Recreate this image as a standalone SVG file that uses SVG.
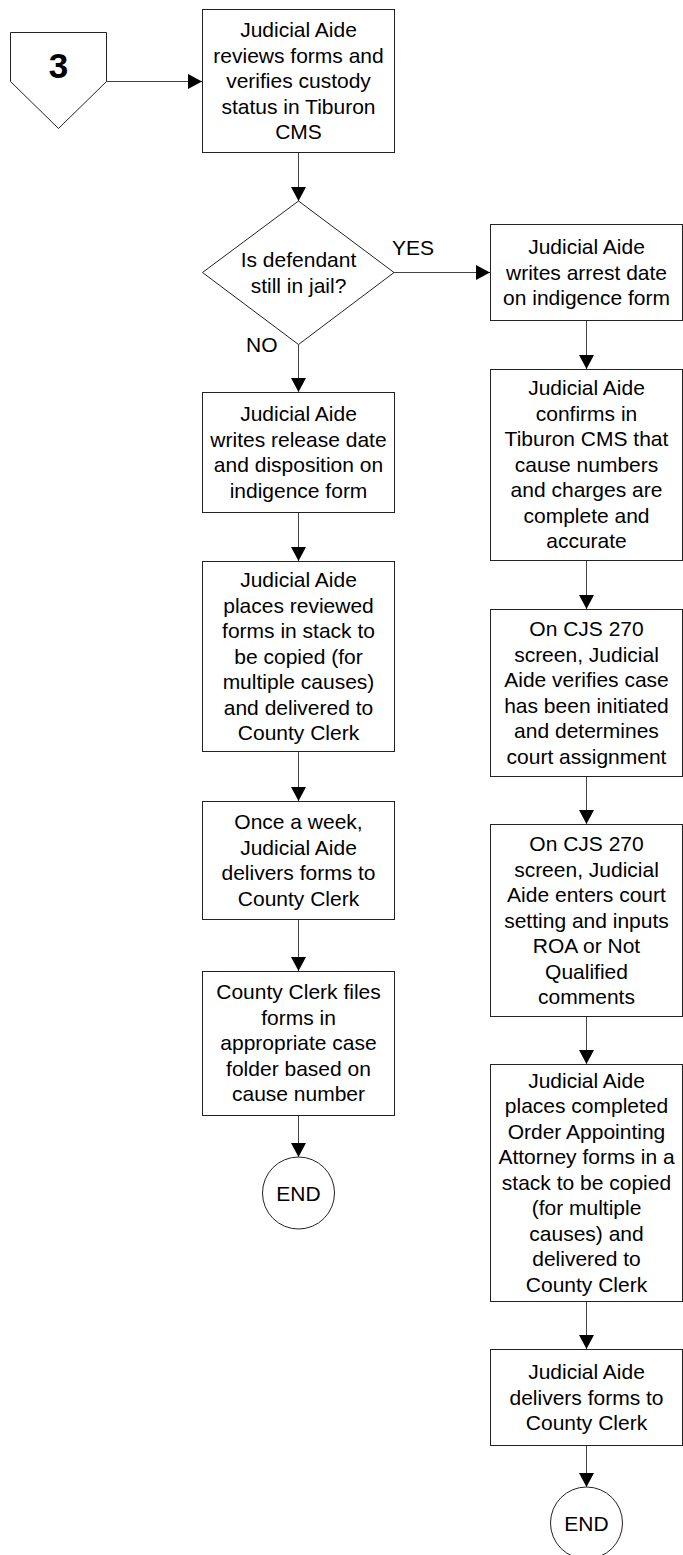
<svg xmlns="http://www.w3.org/2000/svg" width="683" height="1555" viewBox="0 0 683 1555">
<defs>
<style>
.box{fill:#fff;stroke:#222;stroke-width:1}
.conn{fill:none;stroke:#444;stroke-width:1}
.t{font-family:"Liberation Sans",Arial,sans-serif;font-size:21px;fill:#000;text-anchor:middle}
.lbl{font-family:"Liberation Sans",Arial,sans-serif;font-size:21px;fill:#000}
.big{font-family:"Liberation Sans",Arial,sans-serif;font-size:35px;font-weight:bold;fill:#000;text-anchor:middle}
</style>
<marker id="arr" viewBox="0 0 14 15" refX="14" refY="7.5" markerWidth="14" markerHeight="15" markerUnits="userSpaceOnUse" orient="auto">
<path d="M0,0 L14,7.5 L0,15 z" fill="#000"/>
</marker>
</defs>
<rect width="683" height="1555" fill="#fff"/>

<g id="connectors">
<path class="conn" d="M106 81.5 H202" marker-end="url(#arr)"/>
<path class="conn" d="M298.5 152 V201" marker-end="url(#arr)"/>
<path class="conn" d="M394 272.5 H490" marker-end="url(#arr)"/>
<path class="conn" d="M298.5 344.5 V392" marker-end="url(#arr)"/>
<path class="conn" d="M298.5 512 V561" marker-end="url(#arr)"/>
<path class="conn" d="M298.5 752 V801" marker-end="url(#arr)"/>
<path class="conn" d="M298.5 919 V971" marker-end="url(#arr)"/>
<path class="conn" d="M298.5 1115 V1157" marker-end="url(#arr)"/>
<path class="conn" d="M586.5 320 V369" marker-end="url(#arr)"/>
<path class="conn" d="M586.5 560 V609" marker-end="url(#arr)"/>
<path class="conn" d="M586.5 776 V824" marker-end="url(#arr)"/>
<path class="conn" d="M586.5 1016 V1064" marker-end="url(#arr)"/>
<path class="conn" d="M586.5 1301 V1349" marker-end="url(#arr)"/>
<path class="conn" d="M586.5 1445 V1487" marker-end="url(#arr)"/>
<text class="lbl" x="392" y="255">YES</text>
<text class="lbl" x="246" y="352">NO</text>
</g>

<g id="start">
<polygon class="box" points="10.5,32.5 106.5,32.5 106.5,81.5 58.5,128.5 10.5,81.5"/>
<text class="big" x="58.5" y="78">3</text>
</g>

<g id="review">
<rect class="box" x="202.5" y="9.5" width="192" height="143"/>
<text class="t" x="298.5" y="37">Judicial Aide</text>
<text class="t" x="298.5" y="62.5">reviews forms and</text>
<text class="t" x="298.5" y="88">verifies custody</text>
<text class="t" x="298.5" y="113.5">status in Tiburon</text>
<text class="t" x="298.5" y="139">CMS</text>
</g>

<g id="decision">
<polygon class="box" points="298.5,201 394,272.5 298.5,344.5 202.5,272.5"/>
<text class="t" x="298.5" y="267">Is defendant</text>
<text class="t" x="298.5" y="292.5">still in jail?</text>
</g>

<g id="release">
<rect class="box" x="202.5" y="392.5" width="192" height="120"/>
<text class="t" x="298.5" y="421">Judicial Aide</text>
<text class="t" x="298.5" y="446.5">writes release date</text>
<text class="t" x="298.5" y="472">and disposition on</text>
<text class="t" x="298.5" y="497.5">indigence form</text>
</g>

<g id="stackLeft">
<rect class="box" x="202.5" y="561.5" width="192" height="190"/>
<text class="t" x="298.5" y="587">Judicial Aide</text>
<text class="t" x="298.5" y="612.5">places reviewed</text>
<text class="t" x="298.5" y="638">forms in stack to</text>
<text class="t" x="298.5" y="663.5">be copied (for</text>
<text class="t" x="298.5" y="689">multiple causes)</text>
<text class="t" x="298.5" y="714.5">and delivered to</text>
<text class="t" x="298.5" y="740">County Clerk</text>
</g>

<g id="weekly">
<rect class="box" x="202.5" y="801.5" width="192" height="118"/>
<text class="t" x="298.5" y="829">Once a week,</text>
<text class="t" x="298.5" y="854.5">Judicial Aide</text>
<text class="t" x="298.5" y="880">delivers forms to</text>
<text class="t" x="298.5" y="905.5">County Clerk</text>
</g>

<g id="files">
<rect class="box" x="202.5" y="971.5" width="192" height="144"/>
<text class="t" x="298.5" y="999">County Clerk files</text>
<text class="t" x="298.5" y="1024.5">forms in</text>
<text class="t" x="298.5" y="1050">appropriate case</text>
<text class="t" x="298.5" y="1075.5">folder based on</text>
<text class="t" x="298.5" y="1101">cause number</text>
</g>

<g id="endLeft">
<circle class="box" cx="298.5" cy="1193" r="36"/>
<text class="t" x="298.5" y="1200.5">END</text>
</g>

<g id="arrest">
<rect class="box" x="490.5" y="224.5" width="192" height="96"/>
<text class="t" x="586.5" y="254">Judicial Aide</text>
<text class="t" x="586.5" y="279.5">writes arrest date</text>
<text class="t" x="586.5" y="305">on indigence form</text>
</g>

<g id="confirm">
<rect class="box" x="490.5" y="369.5" width="192" height="191"/>
<text class="t" x="586.5" y="395">Judicial Aide</text>
<text class="t" x="586.5" y="420.5">confirms in</text>
<text class="t" x="586.5" y="446">Tiburon CMS that</text>
<text class="t" x="586.5" y="471.5">cause numbers</text>
<text class="t" x="586.5" y="497">and charges are</text>
<text class="t" x="586.5" y="522.5">complete and</text>
<text class="t" x="586.5" y="548">accurate</text>
</g>

<g id="verify">
<rect class="box" x="490.5" y="609.5" width="192" height="167"/>
<text class="t" x="586.5" y="636">On CJS 270</text>
<text class="t" x="586.5" y="661.5">screen, Judicial</text>
<text class="t" x="586.5" y="687">Aide verifies case</text>
<text class="t" x="586.5" y="712.5">has been initiated</text>
<text class="t" x="586.5" y="738">and determines</text>
<text class="t" x="586.5" y="763.5">court assignment</text>
</g>

<g id="setting">
<rect class="box" x="490.5" y="824.5" width="192" height="192"/>
<text class="t" x="586.5" y="851">On CJS 270</text>
<text class="t" x="586.5" y="876.5">screen, Judicial</text>
<text class="t" x="586.5" y="902">Aide enters court</text>
<text class="t" x="586.5" y="927.5">setting and inputs</text>
<text class="t" x="586.5" y="953">ROA or Not</text>
<text class="t" x="586.5" y="978.5">Qualified</text>
<text class="t" x="586.5" y="1004">comments</text>
</g>

<g id="stackRight">
<rect class="box" x="490.5" y="1064.5" width="192" height="237"/>
<text class="t" x="586.5" y="1087.5">Judicial Aide</text>
<text class="t" x="586.5" y="1113">places completed</text>
<text class="t" x="586.5" y="1138.5">Order Appointing</text>
<text class="t" x="586.5" y="1164">Attorney forms in a</text>
<text class="t" x="586.5" y="1189.5">stack to be copied</text>
<text class="t" x="586.5" y="1215">(for multiple</text>
<text class="t" x="586.5" y="1240.5">causes) and</text>
<text class="t" x="586.5" y="1266">delivered to</text>
<text class="t" x="586.5" y="1291.5">County Clerk</text>
</g>

<g id="deliver">
<rect class="box" x="490.5" y="1349.5" width="192" height="96"/>
<text class="t" x="586.5" y="1379">Judicial Aide</text>
<text class="t" x="586.5" y="1404.5">delivers forms to</text>
<text class="t" x="586.5" y="1430">County Clerk</text>
</g>

<g id="endRight">
<circle class="box" cx="586.5" cy="1523" r="36"/>
<text class="t" x="586.5" y="1530.5">END</text>
</g>
</svg>
